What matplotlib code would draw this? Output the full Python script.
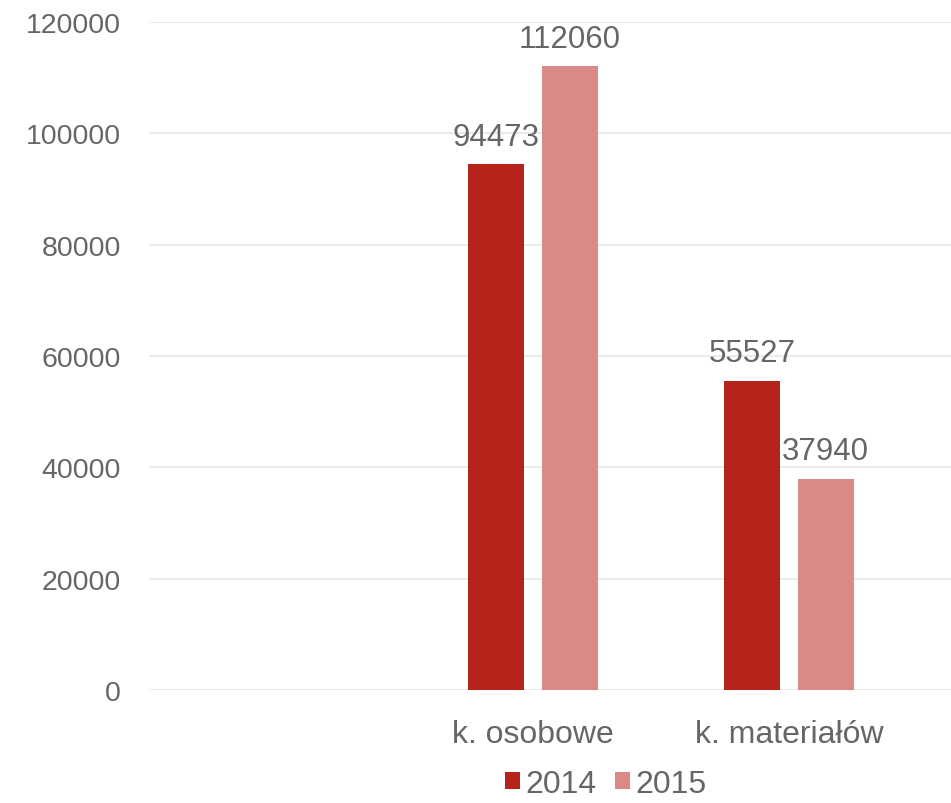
import numpy as np
from matplotlib import pyplot as plt

plt.rcParams['font.family'] = ['Liberation Sans', 'DejaVu Sans']

categories = ["", "k. osobowe", "k. materiałów"]
series_names = ["2014", "2015"]
values_2014 = [np.nan, 94473, 55527]
values_2015 = [np.nan, 112060, 37940]

color_2014 = "#B5231A"
color_2015 = "#DB8987"
text_color = "#666666"

fig = plt.figure(figsize=(9.51, 8.04), dpi=100)
ax = fig.add_axes([149 / 951, (804 - 691) / 804, (951 - 149) / 951, (691 - 23) / 804])

x = np.arange(len(categories))
width = 0.219
offset = 0.143

bars1 = ax.bar(x - offset, values_2014, width, color=color_2014, label=series_names[0], zorder=3)
bars2 = ax.bar(x + offset, values_2015, width, color=color_2015, label=series_names[1], zorder=3)

for bars, vals in [(bars1, values_2014), (bars2, values_2015)]:
    for b, v in zip(bars, vals):
        if np.isnan(v):
            continue
        ax.annotate(str(v), (b.get_x() + b.get_width() / 2, v), xytext=(0, 9),
                    textcoords="offset points", ha="center", va="bottom",
                    fontsize=22.5, color=text_color)

ax.set_ylim(0, 120000)
ax.set_xlim(-0.5, -0.5 + (951 - 149) / 256)
ax.set_yticks(np.arange(0, 120001, 20000))
ax.set_xticks(x)
ax.set_xticklabels(categories)

ax.grid(axis="y", color="#EBEBEB", linewidth=1.5, zorder=0)
ax.set_axisbelow(True)
for s in ax.spines.values():
    s.set_visible(False)
ax.tick_params(axis="y", length=0, pad=20, labelsize=20.5, labelcolor=text_color)
ax.tick_params(axis="x", length=0, pad=21, labelsize=23, labelcolor=text_color)

fig.legend(loc="center", bbox_to_anchor=(0.637, 0.024), ncol=2, frameon=False,
           fontsize=23, labelcolor=text_color, handlelength=0.47, handleheight=0.47,
           handletextpad=0.15, columnspacing=0.6, borderaxespad=0, borderpad=0)

plt.savefig("out.png", dpi=100)
